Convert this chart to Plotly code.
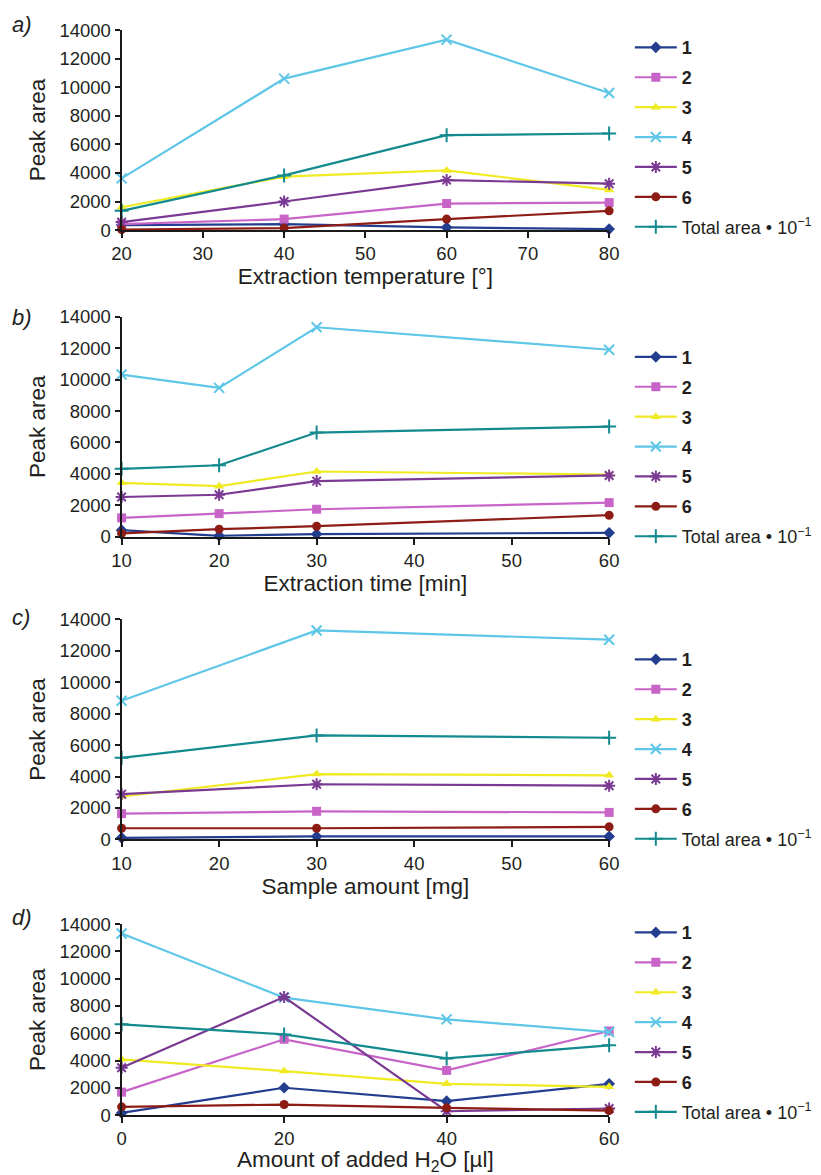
import plotly.graph_objects as go

# ---------------- data ----------------
series_names = ["<b>1</b>", "<b>2</b>", "<b>3</b>", "<b>4</b>", "<b>5</b>", "<b>6</b>",
                "Total area • 10<sup>−1</sup>"]

x_a = [20, 40, 60, 80]
a1 = [350, 420, 190, 70]
a2 = [420, 770, 1860, 1930]
a3 = [1600, 3740, 4180, 2810]
a4 = [3620, 10600, 13330, 9590]
a5 = [560, 2000, 3500, 3250]
a6 = [40, 140, 770, 1350]
tot_a = [1350, 3830, 6640, 6760]

x_b = [10, 20, 30, 60]
b1 = [420, 60, 170, 250]
b2 = [1200, 1470, 1750, 2170]
b3 = [3430, 3220, 4150, 3960]
b4 = [10320, 9470, 13330, 11900]
b5 = [2530, 2670, 3540, 3900]
b6 = [210, 480, 670, 1370]
tot_b = [4320, 4550, 6630, 7010]

x_c = [10, 30, 60]
c1 = [100, 190, 190]
c2 = [1640, 1790, 1720]
c3 = [2730, 4160, 4080]
c4 = [8820, 13300, 12710]
c5 = [2880, 3510, 3420]
c6 = [710, 710, 800]
tot_c = [5190, 6620, 6470]

x_d = [0, 20, 40, 60]
d1 = [170, 2010, 1030, 2300]
d2 = [1690, 5560, 3280, 6170]
d3 = [4090, 3230, 2300, 2080]
d4 = [13310, 8610, 7020, 6090]
d5 = [3480, 8660, 290, 490]
d6 = [610, 780, 540, 340]
tot_d = [6660, 5920, 4160, 5120]

panel_labels = ["a)", "b)", "c)", "d)"]
x_titles = ["Extraction temperature [°]", "Extraction time [min]",
            "Sample amount [mg]", "Amount of added H<sub>2</sub>O [µl]"]

# ---------------- style ----------------
colors = ["#233d8f", "#c864c8", "#f0ea22", "#5ec6e6", "#7a3a94", "#8c1c14", "#128a8e"]
symbols = ["diamond", "square", "triangle-up", "x-thin-open", "asterisk-open", "circle",
           "cross-thin-open"]

W, H = 821, 1175
REG = "Liberation Sans, Arial, sans-serif"

panels = [
    (x_a, [a1, a2, a3, a4, a5, a6, tot_a], (19.4, 223.1), [20, 80], 10, 18.5, 0),
    (x_b, [b1, b2, b3, b4, b5, b6, tot_b], (311.3, 535.3), [10, 60], 10, 333.6, 3),
    (x_c, [c1, c2, c3, c4, c5, c6, tot_c], (619.5, 843.5), [10, 60], 10, 641.6, 4),
    (x_d, [d1, d2, d3, d4, d5, d6, tot_d], (929.7, 1124.3), [0, 60], 20, 919.7, 1),
]
label_y = [13.3, 311.8, 618, 922.6]

fig = go.Figure()
layout = dict(width=W, height=H, margin=dict(l=0, r=0, t=0, b=0),
              paper_bgcolor="white", plot_bgcolor="white", showlegend=True,
              font=dict(family=REG, color="#231f20"))
annotations = []

x_dom = [114.4 / W, 614.1 / W]
for p, (xs, ys_list, (top, bot), xr, dt, leg_top, t_off) in enumerate(panels):
    idx = "" if p == 0 else str(p + 1)
    leg = "legend" + idx
    for s, ys in enumerate(ys_list):
        thin = symbols[s].endswith("-open")
        fig.add_trace(go.Scatter(
            x=xs, y=ys, name=series_names[s], mode="lines+markers",
            xaxis="x" + idx, yaxis="y" + idx, legend=leg, legendgroup=f"p{p}s{s}",
            cliponaxis=False,
            line=dict(color=colors[s], width=2.2),
            marker=dict(symbol=symbols[s], size=10 if thin else 9, color=colors[s],
                        line=dict(color=colors[s], width=2 if thin else 0)),
        ))
    layout["xaxis" + idx] = dict(
        domain=x_dom, anchor="y" + idx, range=xr, dtick=dt, tick0=0,
        showline=True, linecolor="#1a1a1a", linewidth=2, ticks="outside",
        ticklen=6, tickwidth=2, tickcolor="#1a1a1a", showgrid=False, zeroline=False,
        tickfont=dict(family=REG, size=18.5),
        title=dict(text=x_titles[p], font=dict(family=REG, size=22.5), standoff=t_off),
    )
    layout["yaxis" + idx] = dict(
        domain=[1 - bot / H, 1 - top / H], anchor="x" + idx, range=[0, 14000],
        dtick=2000, tickformat="d", showline=True, linecolor="#1a1a1a", linewidth=2,
        ticks="outside", ticklen=5, tickwidth=2, tickcolor="#1a1a1a",
        showgrid=False, zeroline=False,
        tickfont=dict(family=REG, size=18.5),
        title=dict(text="Peak area", font=dict(family=REG, size=22.5), standoff=8),
    )
    layout[leg] = dict(x=635.3 / W, xanchor="left", y=1 - leg_top / H, yanchor="top",
                       bgcolor="rgba(0,0,0,0)", borderwidth=0, itemwidth=42,
                       font=dict(family=REG, size=18, color="#231f20"),
                       tracegroupgap=3.5)
    annotations.append(dict(text="<i>" + panel_labels[p] + "</i>", x=0, y=1 - label_y[p] / H,
                            xref="paper", yref="paper", xanchor="left", yanchor="middle",
                            showarrow=False, font=dict(family=REG, size=22, color="#231f20")))

layout["annotations"] = annotations
fig.update_layout(**layout)
fig.write_html("out.html")
